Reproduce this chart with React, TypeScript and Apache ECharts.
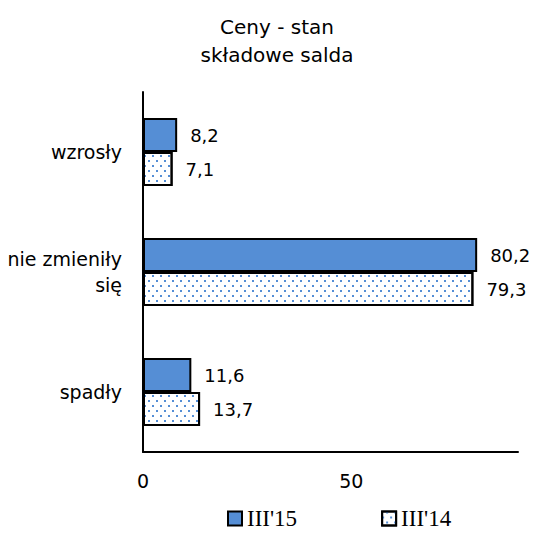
import React, { useEffect, useRef } from "react";
import * as echarts from "echarts";

const categories = ["wzrosły", "nie zmieniły\nsię", "spadły"];
const seriesNames = ["III'15", "III'14"];
const valuesIII15 = [8.2, 80.2, 11.6];
const valuesIII14 = [7.1, 79.3, 13.7];
const titleText = "Ceny - stan\nskładowe salda";

const BLUE = "#558ED5";
const FONT = "DejaVu Sans";

export default function App() {
  const ref = useRef<HTMLDivElement>(null);
  useEffect(() => {
    if (!ref.current) return;
    const chart = echarts.init(ref.current, null, { renderer: "svg" });
    const labelFmt = (p: any) => String(p.value).replace(".", ",");
    chart.setOption({
      animation: false,
      backgroundColor: "#ffffff",
      title: {
        text: titleText,
        left: 272,
        textAlign: "center",
        top: 8,
        textStyle: {
          fontFamily: FONT,
          fontSize: 20,
          fontWeight: "normal",
          color: "#000",
          lineHeight: 28,
        },
      },
      legend: {
        left: 222,
        top: 502,
        icon: "rect",
        itemWidth: 14,
        itemHeight: 14,
        itemGap: 84,
        data: seriesNames,
        itemStyle: { borderColor: "#000", borderWidth: 2 },
        textStyle: {
          fontFamily: "Liberation Serif",
          fontSize: 23,
          color: "#000",
        },
      },
      grid: { left: 143, right: 19, top: 92, bottom: 85, containLabel: false },
      xAxis: {
        type: "value",
        min: 0,
        max: 90,
        interval: 50,
        axisLine: { show: true, lineStyle: { color: "#000", width: 2 } },
        axisTick: { show: false },
        splitLine: { show: false },
        axisLabel: {
          margin: 19,
          fontFamily: FONT,
          fontSize: 19,
          color: "#000",
          showMaxLabel: false,
        },
      },
      yAxis: {
        type: "category",
        inverse: true,
        data: categories,
        axisLine: { show: true, lineStyle: { color: "#000", width: 2 } },
        axisTick: { show: false },
        axisLabel: {
          margin: 21,
          fontFamily: FONT,
          fontSize: 19,
          color: "#000",
          lineHeight: 26,
        },
      },
      series: [
        {
          name: seriesNames[0],
          type: "bar",
          data: valuesIII15,
          barWidth: 34,
          barGap: "0%",
          itemStyle: { color: BLUE, borderColor: "#000", borderWidth: 2 },
          label: {
            show: true,
            position: "right",
            distance: 13,
            formatter: labelFmt,
            fontFamily: FONT,
            fontSize: 18,
            color: "#000",
          },
        },
        {
          name: seriesNames[1],
          type: "bar",
          data: valuesIII14,
          barWidth: 34,
          barGap: "0%",
          itemStyle: {
            color: "#ffffff",
            borderColor: "#000",
            borderWidth: 2,
            decal: {
              symbol: "rect",
              symbolSize: 1,
              color: BLUE,
              backgroundColor: "transparent",
              dashArrayX: [
                [2, 6],
                [0, 4, 2, 2],
              ],
              dashArrayY: [2, 3],
              rotation: 0,
            },
          },
          label: {
            show: true,
            position: "right",
            distance: 13,
            formatter: labelFmt,
            fontFamily: FONT,
            fontSize: 18,
            color: "#000",
          },
        },
      ],
    });
    return () => chart.dispose();
  }, []);
  return <div ref={ref} style={{ width: 537, height: 537, margin: -8 }} />;
}
